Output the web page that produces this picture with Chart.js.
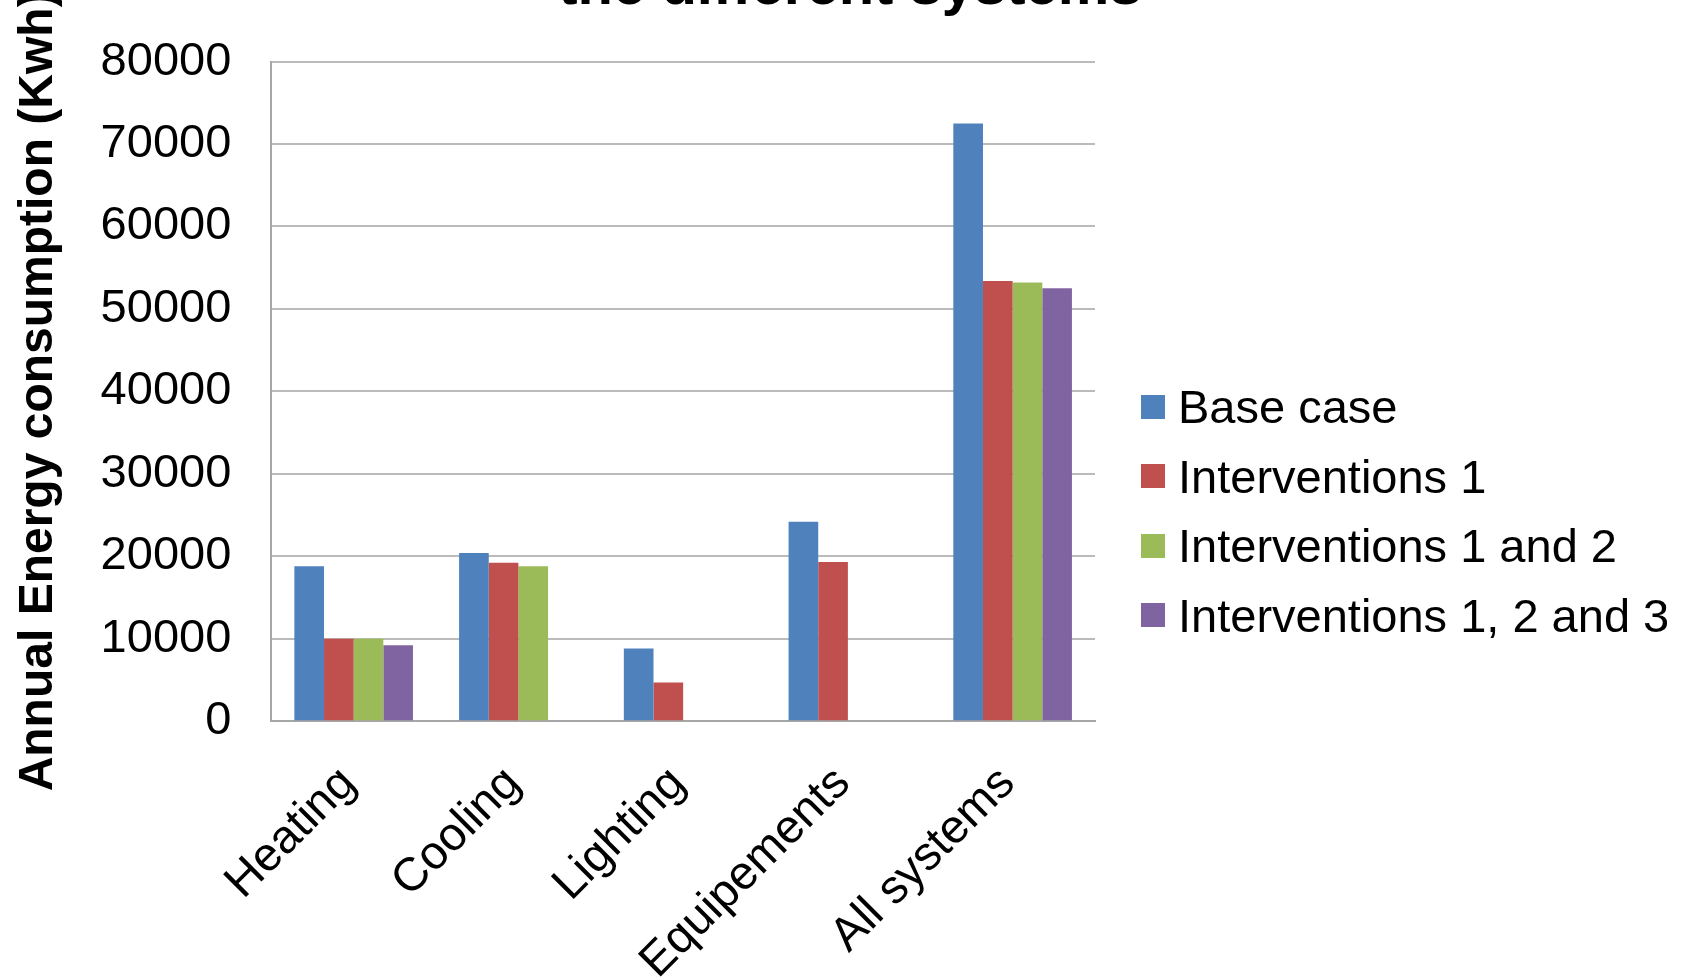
<!DOCTYPE html>
<html>
<head>
<meta charset="utf-8">
<script src="https://cdn.jsdelivr.net/npm/chart.js@4.4.1/dist/chart.umd.min.js"></script>
<style>
    html, body { margin: 0; padding: 0; background: #fff; overflow: hidden; }
    body { width: 1690px; height: 980px; position: relative; font-family: "Liberation Sans", Arial, sans-serif; }
    #wrap { position: absolute; left: 0; top: -60px; width: 1690px; height: 1085px; }
    #legend { position: absolute; left: 1141px; top: 372px; }
    .legend-item { display: flex; align-items: center; height: 69.5px; font-size: 47px; color: #000; white-space: nowrap; }
    .legend-box { width: 24px; height: 24px; margin-right: 13px; }
</style>
</head>
<body>
<div id="wrap"><canvas id="chart"></canvas></div>
<div id="legend"></div>
<script>
// chart data
const categories = ['Heating', 'Cooling', 'Lighting', 'Equipements', 'All systems'];
const seriesNames = ['Base case', 'Interventions 1', 'Interventions 1 and 2', 'Interventions 1, 2 and 3'];
const baseCase = [18800, 20400, 8800, 24200, 72500];
const interventions1 = [10000, 19200, 4700, 19300, 53400];
const interventions12 = [10000, 18800, null, null, 53200];
const interventions123 = [9200, null, null, null, 52500];
const yTicks = [0, 10000, 20000, 30000, 40000, 50000, 60000, 70000, 80000];
const seriesColors = ['#4F81BD', '#C0504D', '#9BBB59', '#8064A2'];

const seriesValues = [baseCase, interventions1, interventions12, interventions123];

const datasets = seriesNames.map((name, i) => ({
    label: name,
    data: seriesValues[i],
    backgroundColor: seriesColors[i],
    borderWidth: 0,
    categoryPercentage: 0.72,
    barPercentage: 1.0
}));

// reserves room on the right for the legend without squeezing the title
const legendSpace = {
    id: 'legendSpace',
    beforeInit(chart) {
        Chart.layouts.addBox(chart, {
            position: 'right',
            weight: 100,
            fullSize: false,
            options: {},
            width: 0, height: 0, left: 0, top: 0, right: 0, bottom: 0,
            isHorizontal() { return false; },
            update(maxWidth, maxHeight) {
                this.width = 595;
                this.height = maxHeight;
            },
            draw() {}
        });
    }
};

const ctx = document.getElementById('chart').getContext('2d');
const chart = new Chart(ctx, {
    type: 'bar',
    data: { labels: categories, datasets: datasets },
    plugins: [legendSpace],
    options: {
        responsive: true,
        maintainAspectRatio: false,
        devicePixelRatio: 1,
        animation: false,
        layout: { padding: { top: 3, right: 0, left: 10, bottom: 0 } },
        plugins: {
            legend: { display: false },
            tooltip: { enabled: false },
            title: {
                display: true,
                text: 'the different systems',
                color: '#000',
                font: { family: 'Liberation Sans', size: 58, weight: 'bold' },
                padding: { top: 10, bottom: 39 }
            }
        },
        scales: {
            x: {
                grid: { display: false, drawTicks: false },
                border: { display: true, color: '#A6A6A6', width: 2 },
                ticks: {
                    color: '#000',
                    font: { family: 'Liberation Sans', size: 47 },
                    minRotation: 45,
                    maxRotation: 45,
                    padding: 35,
                    labelOffset: -5
                }
            },
            y: {
                min: 0,
                max: 80000,
                afterBuildTicks: (scale) => { scale.ticks = yTicks.map(v => ({ value: v })); },
                afterFit: (scale) => { scale.width -= 7; },
                grid: { color: '#BBBBBB', lineWidth: 2, drawTicks: false },
                border: { display: true, color: '#A6A6A6', width: 2 },
                ticks: {
                    color: '#000',
                    font: { family: 'Liberation Sans', size: 47 },
                    padding: 40,
                    callback: (v) => String(v)
                },
                title: {
                    display: true,
                    text: 'Annual Energy consumption (Kwh)',
                    color: '#000',
                    font: { family: 'Liberation Sans', size: 48, weight: 'bold' },
                    padding: { top: 0, bottom: 0 }
                }
            }
        }
    }
});

// legend built from the same series
const legendEl = document.getElementById('legend');
legendEl.innerHTML = seriesNames.map((name, i) => `
    <div class="legend-item"><span class="legend-box" style="background:${seriesColors[i]}"></span>${name}</div>
`).join('');
</script>
</body>
</html>
